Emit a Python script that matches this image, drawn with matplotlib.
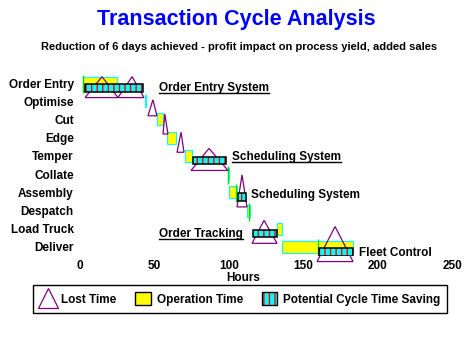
import matplotlib
matplotlib.use("Agg")
import matplotlib.pyplot as plt
from matplotlib.patches import Polygon, Patch
from matplotlib.lines import Line2D
from matplotlib.legend_handler import HandlerTuple

plt.rcParams["font.family"] = ["Liberation Sans", "DejaVu Sans"]
plt.rcParams["font.weight"] = "bold"
plt.rcParams["hatch.linewidth"] = 1.0

# Process stages, top to bottom
stages = ["Order Entry", "Optimise", "Cut", "Edge", "Temper",
          "Collate", "Assembly", "Despatch", "Load Truck", "Deliver"]

# Operation time (hours) for each stage
op_start = [2.0, 44.0, 51.7, 58.5, 70.6, 99.5, 100.1, 112.2, 132.4, 135.8]
op_end = [24.9, 44.5, 55.8, 64.5, 75.3, 100.1, 105.5, 114.2, 135.8, 183.5]

# Lost time (triangles): stage index, start, end, peak, size (rows)
lost_stage = [0, 0, 1, 2, 3, 4, 6, 8, 9]
lost_start = [3.4, 25.5, 45.7, 55.8, 65.2, 74.6, 105.5, 115.6, 159.3]
lost_end = [25.5, 43.0, 51.7, 59.1, 69.9, 99.5, 112.2, 132.4, 183.5]
lost_peak = [14.8, 35.0, 49.0, 57.0, 67.9, 86.7, 108.9, 123.7, 171.4]
lost_size = [1.15, 1.15, 0.88, 1.10, 1.10, 1.21, 1.76, 1.26, 1.92]

# Potential cycle time saving
save_stage = [0, 4, 6, 8, 9]
save_start = [3.4, 75.9, 106.2, 116.3, 160.6]
save_end = [42.3, 98.1, 111.6, 132.4, 183.5]

# Green start markers
mark_stage = [0, 5, 6, 7, 9]
mark_hours = [2.0, 99.5, 104.8, 113.6, 160.0]

xticks = [0, 50, 100, 150, 200, 250]

W, H = 473, 346
fig = plt.figure(figsize=(W / 100, H / 100), dpi=100)
ax = fig.add_axes([80 / W, 1 - 256.1 / H, 372 / W, 182.2 / H])
ax.set_xlim(0, 250)
ax.set_ylim(len(stages) - 0.5, -0.5)
for s in ax.spines.values():
    s.set_visible(False)

# operation time
ax.barh(range(len(stages)), [e - s for s, e in zip(op_start, op_end)],
        left=op_start, height=0.66, color="#ffff00", edgecolor="#00ffff",
        linewidth=0.8, zorder=2)

# green markers
for st, hr in zip(mark_stage, mark_hours):
    ax.vlines(hr, st - 0.44, st + 0.55, color="#00e000", lw=1.0, zorder=3)

# lost time triangles
for st, a, b, p, h in zip(lost_stage, lost_start, lost_end, lost_peak, lost_size):
    base = st + 0.8
    ax.add_patch(Polygon([(a, base), (p, base - h), (b, base)], closed=True,
                         fill=False, edgecolor="#800080", lw=0.9, zorder=4,
                         clip_on=False))

# potential saving bars
ys = [s + 0.26 for s in save_stage]
widths = [e - s for s, e in zip(save_start, save_end)]
ax.barh(ys, widths, left=save_start, height=0.42, color="#00ffff",
        edgecolor="#ff0000", hatch="|||", linewidth=0, zorder=5)
ax.barh(ys, widths, left=save_start, height=0.42, fill=False,
        edgecolor="black", linewidth=1.1, zorder=6)

ax.set_xticks(xticks)
ax.set_yticks(range(len(stages)), stages)
ax.tick_params(length=0, labelsize=8.5)
ax.tick_params(axis="y", pad=4.5)
ax.tick_params(axis="x", pad=2.5)
ax.set_xlabel("Hours", fontsize=8.5, fontweight="bold")
ax.xaxis.set_label_coords(0.438, -0.085)

fig.text(236 / W, 1 - 20 / H, "Transaction Cycle Analysis", color="#0000ff",
         fontsize=15.5, fontweight="bold", ha="center", va="center")
fig.text(239 / W, 1 - 47 / H,
         "Reduction of 6 days achieved - profit impact on process yield, added sales",
         fontsize=8, fontweight="bold", ha="center", va="center")

# system notes: text, stage, hours, offset, align, underline
notes = [("Order Entry System", 0, 53.0, 0.44, "left", True),
         ("Scheduling System", 4, 102.0, 0.22, "left", True),
         ("Scheduling System", 6, 115.0, 0.33, "left", False),
         ("Order Tracking", 8, 109.5, 0.44, "right", True),
         ("Fleet Control", 9, 187.5, 0.48, "left", False)]
texts = []
for txt, st, hr, dy, ha, ul in notes:
    t = ax.text(hr, st + dy, txt, ha=ha, va="baseline", fontsize=8.5,
                fontweight="bold", zorder=7)
    texts.append((t, hr, st + dy, ul))

fig.canvas.draw()
for t, hr, y, ul in texts:
    if not ul:
        continue
    bb = t.get_window_extent()
    yb = ax.transData.transform((hr, y))[1] - 2
    fig.add_artist(Line2D([bb.x0 / W, bb.x1 / W], [yb / H, yb / H],
                          transform=fig.transFigure, color="black", lw=1))

handles = [Line2D([], [], marker="^", ls="none", mfc="none", mec="#800080",
                  ms=15, mew=0.9),
           Patch(fc="#ffff00", ec="black", lw=1),
           (Patch(fc="#00ffff", ec="#ff0000", hatch="|||", lw=0),
            Patch(fill=False, ec="black", lw=1))]
labels = ["Lost Time", "Operation Time", "Potential Cycle Time Saving"]
leg = fig.legend(handles, labels, loc="center",
                 bbox_to_anchor=(240 / W, 1 - 299 / H), ncol=3, frameon=True,
                 fancybox=False, edgecolor="black", framealpha=1,
                 prop={"size": 8.5, "weight": "bold"},
                 handlelength=1.3, handleheight=1.2, handletextpad=0.5,
                 columnspacing=1.6, borderpad=0.6, borderaxespad=0,
                 handler_map={tuple: HandlerTuple(ndivide=1)})
leg.get_frame().set_linewidth(1)

fig.savefig("out.png", dpi=100)
